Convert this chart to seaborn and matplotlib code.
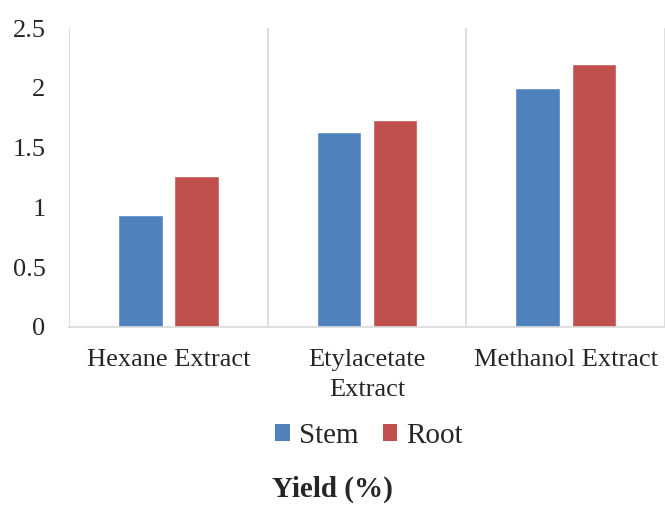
import matplotlib
matplotlib.use("Agg")
import matplotlib.pyplot as plt
import seaborn as sns
import pandas as pd
from matplotlib.patches import Patch

categories = ["Hexane Extract", "Etylacetate\nExtract", "Methanol Extract"]
stem = [0.94, 1.63, 2.00]
root = [1.26, 1.73, 2.20]
series_names = ["Stem", "Root"]
y_ticks = [0, 0.5, 1, 1.5, 2, 2.5]
y_tick_labels = ["0", "0.5", "1", "1.5", "2", "2.5"]

colors = {"Stem": "#4F81BD", "Root": "#C0504D"}

df = pd.DataFrame({
    "Extract": categories * 2,
    "Part": ["Stem"] * len(categories) + ["Root"] * len(categories),
    "Yield": stem + root,
})

sns.set_style("white")
plt.rcParams["font.family"] = ["Liberation Serif", "DejaVu Serif"]

fig = plt.figure(figsize=(6.65, 5.05), dpi=100)
ax = fig.add_axes([0.104, 0.3525, 0.896, 0.592])

sns.barplot(data=df, x="Extract", y="Yield", hue="Part", order=categories,
            hue_order=series_names, palette=colors, width=0.567, gap=0.21,
            saturation=1, legend=False, ax=ax)

ax.set_ylim(0, 2.5)
ax.set_xlim(-0.5, 2.5)
ax.set_yticks(y_ticks)
ax.set_yticklabels(y_tick_labels)
ax.tick_params(axis="y", length=0, pad=17, labelsize=19)

# category boundaries: light vertical lines and small ticks below the axis
ax.set_xticks([-0.5, 0.5, 1.5, 2.5], minor=True)
ax.tick_params(axis="x", which="major", length=0, pad=16, labelsize=19)
ax.tick_params(axis="x", which="minor", length=6, width=1.2, color="#D9D9D9")
for lbl in ax.get_xticklabels():
    lbl.set_linespacing(1.45)
ax.grid(False)
ax.xaxis.grid(True, which="minor", color="#D9D9D9", linewidth=1.2)
ax.set_axisbelow(True)

for side in ["top", "right", "left"]:
    ax.spines[side].set_visible(False)
ax.spines["bottom"].set_color("#D9D9D9")
ax.spines["bottom"].set_linewidth(1.2)

ax.set_xlabel("")
ax.set_ylabel("")

handles = [Patch(facecolor=colors[n], edgecolor="none", label=n) for n in series_names]
fig.legend(handles=handles, loc="center", bbox_to_anchor=(369 / 665, 1 - 436 / 505),
           ncol=2, frameon=False, fontsize=21, handlelength=0.5, handleheight=0.5,
           handletextpad=0.3, columnspacing=0.85, borderpad=0)

fig.text(0.5, 1 - 497 / 505, "Yield (%)", ha="center", va="baseline",
         fontsize=21, fontweight="bold")

fig.savefig("out.png", dpi=100)
